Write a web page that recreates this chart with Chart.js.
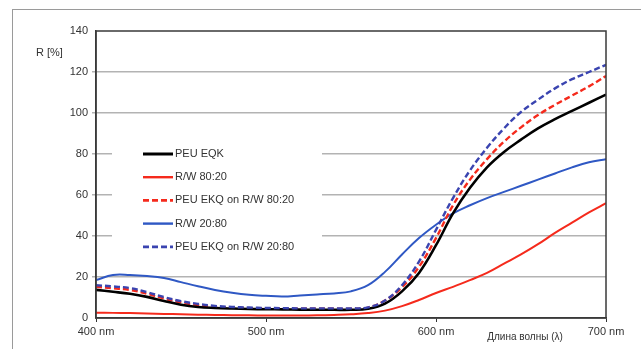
<!DOCTYPE html>
<html>
<head>
<meta charset="utf-8">
<script src="https://cdn.jsdelivr.net/npm/chart.js@4"></script>
<style>
  html, body { margin: 0; padding: 0; background: #fff; }
  #wrap { position: relative; width: 641px; height: 349px; }
  #frame { position: absolute; left: 12px; top: 9px; right: 0; bottom: 0;
           border-top: 1px solid #9a9a9a; border-left: 1px solid #9a9a9a; }
  canvas { position: absolute; left: 0; top: 0; }
</style>
</head>
<body>
<div id="wrap">
  <div id="frame"></div>
  <canvas id="chart" width="641" height="349"></canvas>
</div>
<script>
// wavelength, nm
const wavelengths = [400, 410, 420, 430, 440, 450, 460, 470, 480, 490, 500, 510, 520, 530, 540, 550,
                     560, 570, 580, 590, 600, 610, 620, 630, 640, 650, 660, 670, 680, 690, 700];

// reflectance R, %
const peuEqk = [13.7, 12.8, 11.8, 10.3, 8.3, 6.5, 5.4, 4.9, 4.6, 4.4, 4.3, 4.2, 4.1, 4.0, 4.0, 4.0,
                4.5, 7.0, 13.0, 22.0, 35.5, 51.0, 63.5, 73.5, 81.0, 87.0, 92.5, 97.0, 101.0, 105.0, 109.0];
const rw8020 = [2.6, 2.5, 2.4, 2.2, 2.0, 1.8, 1.6, 1.5, 1.4, 1.3, 1.2, 1.2, 1.2, 1.3, 1.5, 1.8,
                2.4, 3.6, 5.8, 8.8, 12.2, 15.2, 18.5, 22.0, 26.5, 31.0, 36.0, 41.5, 46.5, 51.5, 56.0];
const peuOn8020 = [15.2, 14.5, 13.7, 11.8, 9.5, 7.6, 6.3, 5.4, 5.0, 4.8, 4.7, 4.6, 4.5, 4.5, 4.5, 4.5,
                   5.0, 8.5, 15.0, 25.0, 39.0, 55.0, 67.5, 77.5, 86.0, 93.0, 99.0, 104.0, 108.5, 113.0, 118.0];
const rw2080 = [18.5, 21.0, 21.0, 20.5, 19.5, 17.5, 15.5, 13.7, 12.3, 11.3, 10.8, 10.5, 11.0, 11.5, 12.0, 13.0,
                16.0, 22.5, 31.0, 39.0, 45.5, 51.0, 55.0, 58.5, 61.5, 64.5, 67.5, 70.5, 73.5, 76.0, 77.5];
const peuOn2080 = [16.0, 15.4, 14.6, 12.6, 10.2, 8.2, 6.9, 5.9, 5.4, 5.1, 4.9, 4.8, 4.7, 4.7, 4.7, 4.7,
                   5.2, 8.5, 16.0, 27.5, 43.0, 58.5, 72.0, 83.0, 92.5, 100.5, 106.5, 112.0, 116.5, 120.0, 123.5];

const seriesLabels = ["PEU EQK", "R/W 80:20", "PEU EKQ on R/W 80:20", "R/W 20:80", "PEU EKQ on R/W 20:80"];
const yTitle = "R [%]";
const xTitle = "Длина волны (λ)";

const FONT = "'Liberation Sans', Arial, sans-serif";
const TEXT = "#333";

function pts(values) {
    return values.map((v, i) => ({ x: wavelengths[i], y: v }));
}

const styles = [
    { color: "#000000", width: 2.6, dash: [], order: 2 },
    { color: "#f52a1c", width: 2, dash: [], order: 4 },
    { color: "#f52a1c", width: 2.4, dash: [6, 3], order: 3 },
    { color: "#2f58c4", width: 2, dash: [], order: 5 },
    { color: "#3a44b0", width: 2.4, dash: [6, 3], order: 1 },
];
const seriesData = [peuEqk, rw8020, peuOn8020, rw2080, peuOn2080];

// frame, legend box and free-standing titles
const decorations = {
    id: "decorations",
    afterDatasetsDraw(chart) {
        const { ctx, chartArea: a } = chart;
        ctx.save();
        ctx.strokeStyle = "#3a3a3a";
        ctx.lineWidth = 1.5;
        ctx.strokeRect(a.left, a.top, a.right - a.left, a.bottom - a.top);
        ctx.restore();
    },
    afterDraw(chart) {
        const { ctx } = chart;
        ctx.save();
        // legend inside the plot
        ctx.fillStyle = "#fff";
        ctx.fillRect(112, 138, 210, 118);
        ctx.font = "11px " + FONT;
        ctx.textBaseline = "middle";
        seriesLabels.forEach((lbl, i) => {
            const y = 154 + i * 23.2;
            const s = styles[i];
            ctx.strokeStyle = s.color;
            ctx.lineWidth = s.width + 0.4;
            ctx.setLineDash(s.dash);
            ctx.beginPath();
            ctx.moveTo(143, y);
            ctx.lineTo(173, y);
            ctx.stroke();
            ctx.setLineDash([]);
            ctx.fillStyle = TEXT;
            ctx.textAlign = "left";
            ctx.fillText(lbl, 175, y);
        });
        ctx.font = "11px " + FONT;
        ctx.fillText(yTitle, 36, 53);
        ctx.font = "10px " + FONT;
        ctx.textAlign = "center";
        ctx.fillText(xTitle, 525, 337);
        ctx.restore();
    }
};

new Chart(document.getElementById("chart"), {
    type: "line",
    data: {
        datasets: seriesLabels.map((lbl, i) => ({
            label: lbl,
            data: pts(seriesData[i]),
            borderColor: styles[i].color,
            borderWidth: styles[i].width,
            borderDash: styles[i].dash,
            order: styles[i].order,
            pointRadius: 0,
            fill: false,
            tension: 0.4,
        }))
    },
    options: {
        responsive: false,
        animation: false,
        layout: { padding: { left: 0, top: 31, right: 35, bottom: 0 } },
        plugins: { legend: { display: false }, tooltip: { enabled: false } },
        scales: {
            x: {
                type: "linear",
                min: 400,
                max: 700,
                afterFit: (s) => { s.height = 31; },
                ticks: {
                    stepSize: 100,
                    padding: 3,
                    maxRotation: 0,
                    color: TEXT,
                    font: { family: FONT, size: 11 },
                    callback: (v) => v + " nm",
                },
                grid: { drawOnChartArea: false, tickLength: 4, color: "#333" },
                border: { color: "#3a3a3a", width: 1.5 },
            },
            y: {
                min: 0,
                max: 140,
                afterFit: (s) => { s.width = 96; },
                ticks: {
                    stepSize: 20,
                    padding: 4,
                    color: TEXT,
                    font: { family: FONT, size: 11 },
                },
                grid: {
                    tickLength: 4,
                    color: (c) => (c.tick && (c.tick.value === 0 || c.tick.value === 140)) ? "rgba(0,0,0,0)" : "#b3b3b3",
                    lineWidth: 1.5,
                },
                border: { color: "#3a3a3a", width: 1.5 },
            },
        },
    },
    plugins: [decorations],
});
</script>
</body>
</html>
